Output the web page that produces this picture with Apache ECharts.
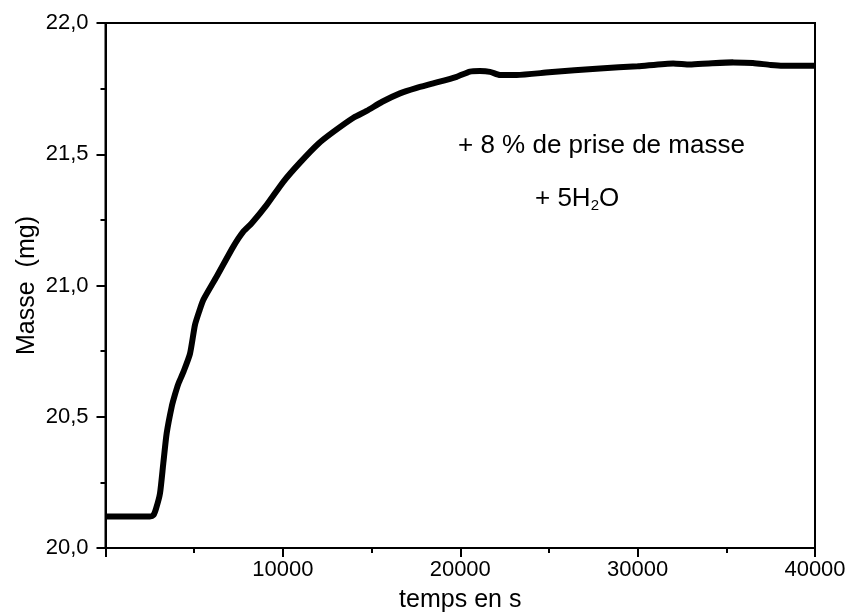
<!DOCTYPE html>
<html><head><meta charset="utf-8">
<script src="https://cdn.jsdelivr.net/npm/echarts@6/dist/echarts.min.js"></script>
<style>html,body{margin:0;padding:0;background:#fff}#c{width:853px;height:614px}</style>
</head><body><div id="c"></div>
<script>
const timeS = [0,500,1000,1500,2000,2500,2700,2850,3072,3259,3449,3731,3918,4104,4400,4763,5045,5300,5515,6268,7205,7768,8241,9087,10024,10964,12000,12843,14000,14722,15600,16601,17500,18478,19797,20547,21100,21674,22238,23180,25000,27875,30000,32007,32948,34000,35389,36500,37500,38208,40000];
const masseMg = [20.12,20.12,20.12,20.12,20.12,20.12,20.125,20.15,20.208,20.323,20.437,20.538,20.585,20.625,20.672,20.74,20.85,20.905,20.945,21.034,21.148,21.205,21.237,21.307,21.395,21.468,21.54,21.585,21.64,21.665,21.70,21.732,21.752,21.770,21.795,21.815,21.817,21.814,21.802,21.802,21.812,21.827,21.835,21.846,21.842,21.846,21.850,21.848,21.840,21.837,21.837];
const xTicks = [10000,20000,30000,40000];
const yTicks = ['20,0','20,5','21,0','21,5','22,0'];
const annotation1 = '+ 8 % de prise de masse';

const font = 'Liberation Sans, Arial, sans-serif';
const chart = echarts.init(document.getElementById('c'));
chart.setOption({
  animation:false,
  backgroundColor:'#fff',
  grid:{left:105.5,right:38,top:23,bottom:66,containLabel:false,outerBoundsMode:'none',show:true,borderColor:'#000',borderWidth:2,backgroundColor:'transparent'},
  xAxis:{type:'value',min:0,max:40000,interval:10000,
    name:'temps en s',nameLocation:'middle',nameGap:40,nameMoveOverlap:false,
    nameTextStyle:{fontFamily:font,fontSize:25,color:'#000'},
    axisLine:{show:true,lineStyle:{color:'#000',width:2}},
    axisTick:{show:true,length:9,lineStyle:{color:'#000',width:2}},
    minorTick:{show:true,splitNumber:2,length:5,lineStyle:{color:'#000',width:2}},
    splitLine:{show:false},
    axisLabel:{fontFamily:font,fontSize:22,color:'#000',margin:11,
      formatter:v=>xTicks.includes(v)?String(v):''}
  },
  yAxis:{type:'value',min:20,max:22,interval:0.5,
    name:'Masse  (mg)',nameLocation:'middle',nameGap:66,nameMoveOverlap:false,
    nameTextStyle:{fontFamily:font,fontSize:25,color:'#000'},
    axisLine:{show:true,lineStyle:{color:'#000',width:2}},
    axisTick:{show:true,length:9,lineStyle:{color:'#000',width:2}},
    minorTick:{show:true,splitNumber:2,length:5,lineStyle:{color:'#000',width:2}},
    splitLine:{show:false},
    axisLabel:{fontFamily:font,fontSize:22,color:'#000',margin:17,
      formatter:v=>yTicks[Math.round((v-20)/0.5)]}
  },
  series:[{type:'line',data:timeS.map((t,i)=>[t,masseMg[i]]),
    showSymbol:false,smooth:0.2,lineStyle:{color:'#000',width:6},clip:true}],
  graphic:[
    {type:'text',left:458,top:133,style:{text:annotation1,fontFamily:font,fontSize:26,fill:'#000'}},
    {type:'text',left:535,top:186,style:{text:'+ 5H{s|2}O',fontFamily:font,fontSize:26,fill:'#000',
      rich:{s:{fontFamily:font,fontSize:15,fill:'#000',verticalAlign:'bottom',padding:[14,0,0,0]}}}}
  ]
});
</script></body></html>
